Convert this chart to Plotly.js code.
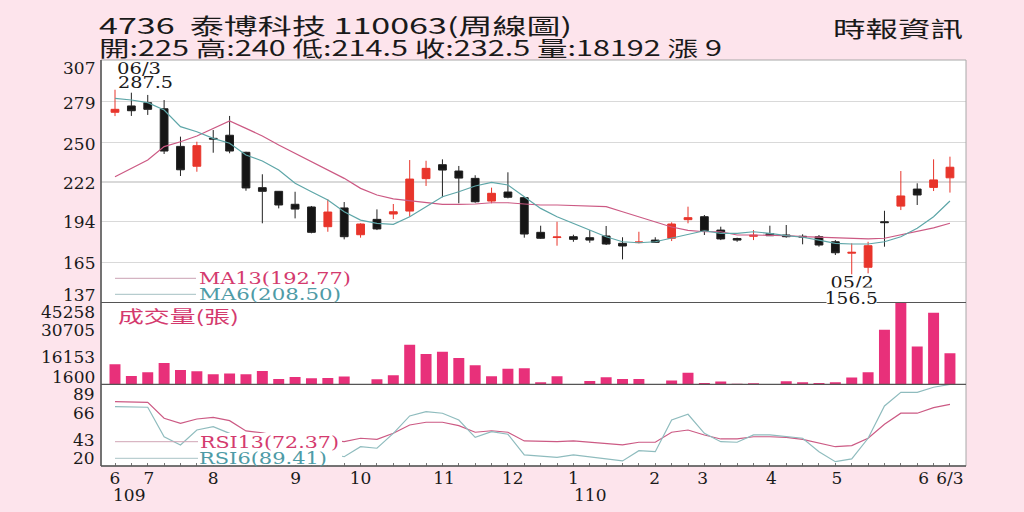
<!DOCTYPE html>
<html>
<head>
<meta charset="utf-8">
<script src="https://cdn.plot.ly/plotly-3.0.1.min.js"></script>
<style>
html,body{margin:0;padding:0;background:#fde4ec;}
#chart{width:1024px;height:512px;}
</style>
</head>
<body>
<div id="chart"></div>
<script>
// ---------------- data ----------------
const weeks = [0,1,2,3,4,5,6,7,8,9,10,11,12,13,14,15,16,17,18,19,20,21,22,23,24,25,26,27,28,29,30,31,32,33,34,35,36,37,38,39,40,41,42,43,44,45,46,47,48,49,50,51];
const openP  = [271.5,276.0,278.3,274.0,247.3,233.2,253.0,255.2,243.1,218.0,215.4,206.2,204.3,190.3,203.6,184.6,195.5,199.3,201.4,224.4,234.3,229.8,224.6,208.5,214.9,210.9,186.3,182.6,183.2,182.5,183.7,178.5,179.0,180.8,182.1,195.3,197.4,187.9,181.9,183.5,185.3,184.4,183.5,183.2,179.6,171.5,161.5,193.8,204.9,217.0,218.2,225.0];
const highP  = [287.5,285.4,283.8,280.2,254.2,250.6,258.9,268.9,243.5,227.5,215.6,215.1,205.0,209.7,207.8,192.7,202.6,206.4,237.6,237.1,238.1,233.4,226.8,218.0,228.9,211.4,191.0,193.8,184.6,187.9,190.8,182.8,186.7,182.8,193.4,204.5,198.6,190.3,182.5,187.9,191.0,191.5,184.9,184.4,180.8,178.5,179.6,201.6,229.8,221.1,238.1,240.0];
const lowP   = [268.8,268.9,269.6,241.9,226.3,229.3,242.8,242.4,215.8,192.7,203.3,196.2,185.6,186.7,181.3,182.5,187.9,195.7,197.4,219.2,211.2,206.9,207.3,206.9,210.4,182.5,181.6,176.8,179.6,178.9,177.3,167.1,178.5,178.9,180.1,192.7,184.4,180.8,179.6,180.8,183.7,182.5,177.8,176.1,170.2,156.5,157.2,176.1,202.1,205.7,215.6,214.5];
const closeP = [273.6,272.6,273.6,244.0,230.7,247.8,252.5,244.0,217.8,215.4,205.7,202.8,186.3,200.7,183.2,192.2,188.7,200.9,224.1,231.7,230.5,224.8,208.0,214.0,211.2,185.1,182.1,183.0,181.3,180.8,178.0,176.6,179.4,179.2,192.2,196.7,187.4,181.6,180.8,184.2,183.9,183.2,183.0,177.3,171.8,172.1,176.8,193.2,212.1,212.8,223.5,232.5];
const ma13 = [225.8,231.7,237.6,247.1,250.6,254.7,260.1,265.3,260.1,254.7,248.3,242.4,236.4,230.5,224.6,217.5,212.8,210.1,208.7,207.3,206.2,206.2,206.4,207.3,207.3,206.4,205.7,205.7,205.2,205.0,204.5,200.9,197.4,193.8,190.1,187.7,186.7,186.7,184.4,184.4,184.4,183.9,183.2,182.8,182.1,182.1,181.6,182.1,184.4,186.7,189.5,192.77];
const ma6  = [281.4,280.2,278.3,273.1,261.3,257.7,253.0,249.5,241.2,236.9,230.5,221.1,215.1,209.2,200.9,195.0,192.7,192.0,197.4,204.5,211.6,215.1,219.2,221.8,219.9,211.6,203.3,197.4,192.7,188.0,183.2,179.6,178.9,179.6,182.1,184.4,187.4,185.6,185.6,186.7,185.6,183.9,182.8,180.8,178.5,178.0,178.0,179.6,183.2,189.2,197.4,208.50];
const volume = [12250,6020,7990,12940,9210,8520,6920,7300,6920,8680,4420,5490,4790,4950,5700,1600,4260,6390,22740,17730,19010,15600,11720,5860,9960,10120,2660,5860,1600,3360,5330,4420,4420,1600,3570,7830,2290,3040,1900,2130,1600,3200,2660,2290,2660,5170,7990,30710,45258,21830,39770,18192];
const rsi13 = [74.7,74.2,74.2,60.6,56.3,60.0,61.4,58.6,49.8,48.3,45.5,44.7,41.3,42.1,40.7,43.6,42.7,47.8,54.9,57.2,57.2,54.3,48.7,50.0,48.7,41.3,40.7,40.7,41.3,40.2,39.3,37.9,40.2,40.2,48.7,50.6,46.4,43.0,43.0,44.9,44.9,44.4,42.7,39.3,36.4,37.3,43.6,55.5,64.9,64.9,69.6,72.37];
const rsi6  = [70.5,70.0,70.0,44.9,37.9,50.6,53.4,47.8,40.4,38.7,33.6,33.6,26.8,31.1,27.9,36.4,35.1,47.8,62.6,66.2,64.9,59.1,44.4,49.2,47.0,29.4,28.5,27.4,29.4,27.9,26.0,24.3,33.0,32.2,59.1,64.0,47.8,40.7,40.2,46.4,46.4,44.9,43.6,32.2,23.7,26.0,43.6,71.1,82.7,82.7,87.0,89.41];

const monthPos  = [0,2.07,6.0,11.03,15.0,20.1,24.3,28.0,32.96,35.9,40.1,44.1,49.4,51.0];
const monthText = ['6','7','8','9','10','11','12','1','2','3','4','5','6','6/3'];
const yearText  = ['109','110'];
const yearPos   = [0,28];
const priceTicks = [137,165,194,222,250,279,307];
const volTicks   = [1600,16153,30705,45258];
const rsiTicks   = [20,43,66,89];

const titleLine1 = '4736\u00a0 泰博科技 110063(周線圖)';
const titleLine2 = '開:225 高:240 低:214.5 收:232.5 量:18192 漲 9';
const sourceText = '時報資訊';
const volTitle = '成交量(張)';
const hiLabel = ['06/3','287.5'];
const loLabel = ['05/2','156.5'];
const hiIndex = 0, loIndex = 45;
const maLabels = ['MA13(192.77)','MA6(208.50)'];
const rsiLabels = ['RSI13(72.37)','RSI6(89.41)'];

// ---------------- style ----------------
const SERIF = '"DejaVu Serif", serif';
const CJK = '"Noto Sans CJK TC", "Noto Sans CJK SC", sans-serif';
const RED = '#e8352b', BLK = '#151515';
const PINK = '#cc5a84', TEAL = '#5ea6a8';
const PINK_T = '#d43a6e', TEAL_T = '#4e9ba6';
const VOLC = '#e8307a';
const PL=101, PR=966, PT=60, PB=466;
const PX = p => (p-PL)/(PR-PL);
const PY = p => (PB-p)/(PB-PT);
const D1 = [PY(302.5), 1], D2 = [PY(384.3), PY(302.5)], D3 = [0, PY(384.3)];

const traces = [
  {type:'candlestick', x:weeks, open:openP, high:highP, low:lowP, close:closeP,
   xaxis:'x', yaxis:'y', whiskerwidth:0,
   increasing:{line:{color:RED,width:1}, fillcolor:RED},
   decreasing:{line:{color:'#222',width:1}, fillcolor:BLK}, hoverinfo:'skip'},
  {type:'scatter', mode:'lines', x:weeks, y:ma13, xaxis:'x', yaxis:'y', line:{color:PINK,width:1.2}},
  {type:'scatter', mode:'lines', x:weeks, y:ma6, xaxis:'x', yaxis:'y', line:{color:TEAL,width:1.2}},
  {type:'bar', x:weeks, y:volume, xaxis:'x', yaxis:'y2', marker:{color:VOLC}},
  {type:'scatter', mode:'lines', x:weeks, y:rsi13, xaxis:'x', yaxis:'y3', line:{color:PINK,width:1.2}},
  {type:'scatter', mode:'lines', x:weeks, y:rsi6, xaxis:'x', yaxis:'y3', line:{color:'#8fbcbe',width:1.2}}
];

const ann = [], stretchTo = [];
function addText(o, w){ ann.push(Object.assign({showarrow:false}, o)); stretchTo.push(w||0); }

addText({text:titleLine1, xref:'paper', yref:'paper', x:PX(97), y:PY(24), xanchor:'left', yanchor:'middle', align:'left', font:{family:CJK,size:22,color:'#1a1a1a'}}, 473);
addText({text:titleLine2, xref:'paper', yref:'paper', x:PX(97), y:PY(47), xanchor:'left', yanchor:'middle', align:'left', font:{family:CJK,size:21,color:'#1a1a1a'}}, 623);
addText({text:sourceText, xref:'paper', yref:'paper', x:PX(965), y:PY(27), xanchor:'right', yanchor:'middle', align:'right', font:{family:CJK,size:22,color:'#1a1a1a'}}, 130);
addText({text:volTitle, xref:'paper', yref:'paper', x:PX(116), y:PY(315), xanchor:'left', yanchor:'middle', align:'left', font:{family:CJK,size:17,color:PINK_T}}, 121);
addText({text:hiLabel[0], xref:'x', yref:'paper', x:hiIndex, y:PY(68), xanchor:'left', yanchor:'middle', align:'left', font:{family:SERIF,size:17,color:'#1a1a1a'}}, 44);
addText({text:hiLabel[1], xref:'x', yref:'paper', x:hiIndex, xshift:1, y:PY(82), xanchor:'left', yanchor:'middle', align:'left', font:{family:SERIF,size:17,color:'#1a1a1a'}}, 55);
addText({text:loLabel[0], xref:'x', yref:'paper', x:loIndex, y:PY(282), xanchor:'center', yanchor:'middle', font:{family:SERIF,size:17,color:'#1a1a1a'}}, 43);
addText({text:loLabel[1], xref:'x', yref:'paper', x:loIndex, y:PY(298), xanchor:'center', yanchor:'middle', bgcolor:'#ffffff', borderpad:0, font:{family:SERIF,size:17,color:'#1a1a1a'}}, 53);
addText({text:maLabels[0], xref:'paper', yref:'paper', x:PX(197), y:PY(278.3), xanchor:'left', yanchor:'middle', align:'left', font:{family:SERIF,size:17,color:PINK_T}}, 152);
addText({text:maLabels[1], xref:'paper', yref:'paper', x:PX(197), y:PY(294.3), xanchor:'left', yanchor:'middle', align:'left', font:{family:SERIF,size:17,color:TEAL_T}}, 142);
addText({text:rsiLabels[0], xref:'paper', yref:'paper', x:PX(198), y:PY(441.7), xanchor:'left', yanchor:'middle', align:'left', font:{family:SERIF,size:17,color:PINK_T}}, 139);
addText({text:rsiLabels[1], xref:'paper', yref:'paper', x:PX(197), y:PY(458.3), xanchor:'left', yanchor:'middle', align:'left', font:{family:SERIF,size:17,color:TEAL_T}}, 128);
yearText.forEach((t,i) => addText({text:t, xref:'x', yref:'paper', x:yearPos[i], xshift:(i===0?-4:-1), y:PY(495), xanchor:'left', yanchor:'middle', align:'left', font:{family:SERIF,size:17,color:'#1a1a1a'}}));

const yFont = {family:SERIF,size:17,color:'#1a1a1a'};
function yLabels(ticks, yref, shifts){
  ticks.forEach((v,i) => addText({text:String(v), xref:'paper', yref:yref, x:0, xshift:-4, y:v, yshift:shifts[i], xanchor:'right', yanchor:'middle', font:yFont}));
}
yLabels(priceTicks, 'y', [7,-1,-1,-1,-1,-1,-6]);
yLabels(volTicks, 'y2', [7,0,0,-9]);
yLabels(rsiTicks, 'y3', [8,-1,-1,-9]);

const lineShape = (x0,y0,x1,y1,color,w) => ({type:'line', xref:'paper', yref:'paper', x0:x0, y0:y0, x1:x1, y1:y1, line:{color:color,width:w}, layer:'above'});
const shapes = [
  {type:'rect', xref:'paper', yref:'paper', x0:PX(198), x1:PX(342), y0:PY(465.5), y1:PY(433), fillcolor:'#ffffff', line:{width:0}, layer:'above'},
  lineShape(PX(115), PY(278.3), PX(196), PY(278.3), '#caa2b3', 1),
  lineShape(PX(115), PY(294.3), PX(196), PY(294.3), '#a4c0c2', 1),
  lineShape(PX(115), PY(441.7), PX(198), PY(441.7), '#d0a6b6', 1),
  lineShape(PX(115), PY(458.3), PX(198), PY(458.3), '#a9c4c6', 1),
  {type:'rect', xref:'paper', yref:'paper', x0:0, x1:1, y0:0, y1:1, line:{color:'#a8a8a8',width:1}, layer:'above'},
  lineShape(0, 0, 0, 1, '#555', 1.5),
  lineShape(0, D1[0], 1, D1[0], '#555', 1.2),
  lineShape(0, D2[0], 1, D2[0], '#555', 1.2),
  lineShape(0, 0, 1, 0, '#555', 1.5)
];

const layout = {
  width:1024, height:512, autosize:false,
  paper_bgcolor:'#fde4ec', plot_bgcolor:'#ffffff',
  margin:{l:PL, r:1024-PR, t:PT, b:512-PB, pad:0},
  showlegend:false, hovermode:false, bargap:0.33, boxgap:0.32,
  xaxis:{range:[-0.855,51.98], anchor:'y3', tickmode:'array', tickvals:monthPos, ticktext:monthText,
         tickfont:{family:SERIF,size:17,color:'#1a1a1a'}, ticks:'', showgrid:false, zeroline:false, showline:false,
         rangeslider:{visible:false}, fixedrange:true,
         minor:{tick0:0, dtick:1, ticks:'inside', ticklen:3, tickcolor:'#777', showgrid:false}},
  yaxis:{domain:D1, range:[136.5,308.6], tickmode:'array', tickvals:priceTicks.slice(1,6), showticklabels:false, ticks:'',
         showgrid:true, gridcolor:'#d9d9d9', gridwidth:1.3, zeroline:false, showline:false, fixedrange:true},
  yaxis2:{domain:D2, range:[1600,45258], showticklabels:false, ticks:'', showgrid:false, zeroline:false, showline:false, fixedrange:true},
  yaxis3:{domain:D3, range:[20,89.5], showticklabels:false, ticks:'', showgrid:false, zeroline:false, showline:false, fixedrange:true},
  annotations:ann, shapes:shapes
};

Plotly.newPlot('chart', traces, layout, {staticPlot:true, displayModeBar:false}).then(function(gd){
  gd.querySelectorAll('g.annotation').forEach(function(g){
    var i = +g.getAttribute('data-index');
    var w = stretchTo[i];
    if(!w) return;
    var t = g.querySelector('text.annotation-text');
    if(!t) return;
    t.setAttribute('textLength', w);
    t.setAttribute('lengthAdjust', 'spacingAndGlyphs');
  });
});
</script>
</body>
</html>
